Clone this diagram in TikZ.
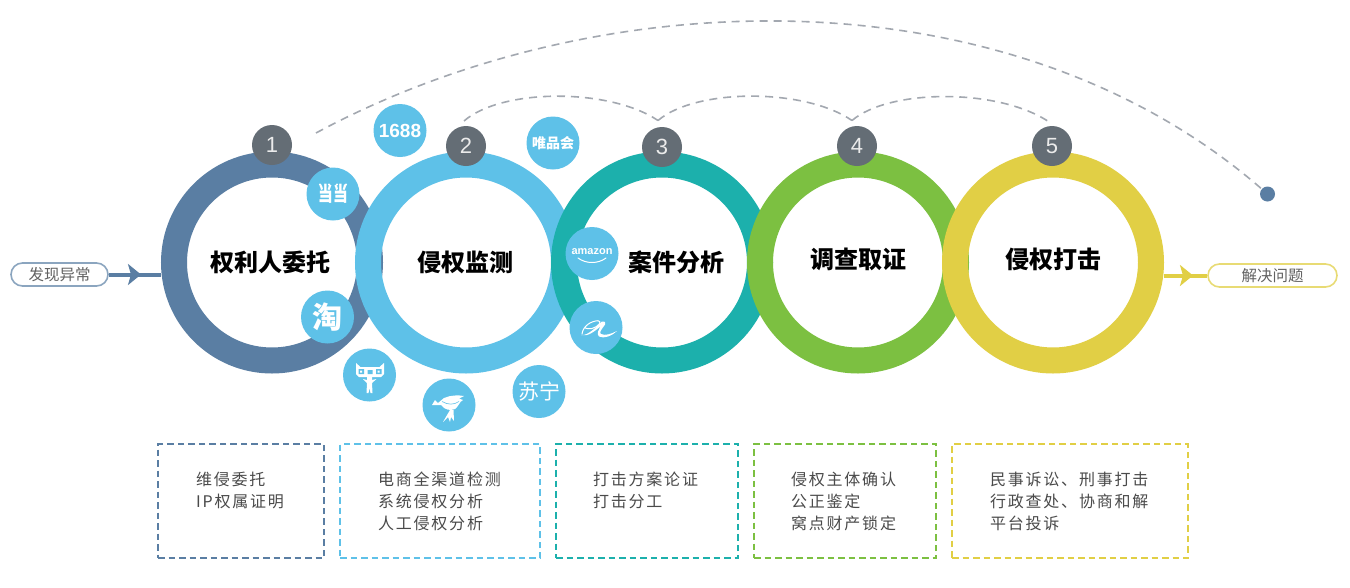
\documentclass[tikz,border=0pt]{standalone}
\usepackage{fontspec}
\usepackage{graphicx}
\setmainfont{Noto Sans CJK SC}
\newfontfamily\cjkbody[LetterSpace=11]{Noto Sans CJK SC}
\newfontfamily\numfont{Liberation Sans}
\usetikzlibrary{arrows.meta}
\definecolor{cA}{HTML}{5A7EA3}
\definecolor{cB}{HTML}{5EC1E8}
\definecolor{cC}{HTML}{1CB0AC}
\definecolor{cD}{HTML}{7CC041}
\definecolor{cE}{HTML}{E1CF45}
\definecolor{numgrey}{HTML}{646D75}
\definecolor{arcgrey}{HTML}{A3A8B0}
\definecolor{bodytext}{HTML}{4A4A4A}
\tikzset{
  ringnode/.style={circle,draw=#1,line width=26pt,minimum size=196pt,inner sep=0pt},
  ringtext/.style={inner sep=0pt,text=black,font=\fontsize{24}{28}\selectfont\bfseries},
  numnode/.style={circle,fill=numgrey,minimum size=40pt,inner sep=0pt,text=white!92!black,
    font=\numfont\fontsize{22}{26}\selectfont},
  logonode/.style={circle,fill=cB,minimum size=53pt,inner sep=0pt,text=white},
  infobox/.style={draw=#1,line width=2pt,dash pattern=on 6.5pt off 4pt,fill=white,inner sep=0pt},
  bodynode/.style={anchor=north west,align=left,inner sep=0pt,text=bodytext,
    font=\cjkbody\fontsize{16}{22}\selectfont},
  pillnode/.style={draw=#1,line width=1.6pt,fill=white,rounded corners=11.5pt,minimum height=23pt,
    inner sep=0pt,text=black!62,font=\fontsize{15.5}{18}\selectfont},
  flowline/.style={draw=#1,line width=4pt},
  flowtip/.style={draw=#1,line width=4pt,-{Stealth[inset=3pt,length=13pt,width=21pt,fill=#1]}},
  arcline/.style={draw=arcgrey,line width=1.6pt,dash pattern=on 8pt off 6pt},
  logoink/.style={draw=white,line width=#1,line cap=round,line join=round},
  logofill/.style={fill=white,draw=none},
}
\begin{document}
\begin{tikzpicture}[x=1pt,y=-1pt]
\useasboundingbox (0,0) rectangle (1350,587);
\fill[white] (0,0) rectangle (1350,587);

% rings
\node[ringnode=cA] (r1) at (272,262.5) {};
\node[ringnode=cB] (r2) at (466,262.5) {};
\node[ringnode=cC] (r3) at (662,262.5) {};
\node[ringnode=cD] (r4) at (858,262.5) {};
\node[ringnode=cE] (r5) at (1053,262.5) {};
\node[ringtext] (t1) at (270,262) {权利人委托};
\node[ringtext] (t2) at (465,262) {侵权监测};
\node[ringtext] (t3) at (676,262) {案件分析};
\node[ringtext] (t4) at (858,259) {调查取证};
\node[ringtext] (t5) at (1053,259) {侵权打击};

% terminal pills and flow lines
\node[pillnode=cA!70,minimum width=97pt] (start) at (59.5,274.5) {发现异常\hspace{5pt}};
\node[pillnode=cE!75,minimum width=129pt] (stop) at (1272.5,275.5) {解决问题\hspace{5pt}};
\coordinate (tipA) at (141,274.5);
\coordinate (tipE) at (1193,275.5);
\draw[flowline=cA] (start.east) -- (start.east -| r1.west);
\draw[flowtip=cA] (start.east) -- (tipA);
\draw[flowline=cE] (stop.west -| r5.east) -- (stop.west);
\draw[flowtip=cE] (stop.west -| r5.east) -- (tipE);

% dashed arcs
\node[circle,fill=cA,minimum size=15pt,inner sep=0pt] (dot) at (1267.5,194) {};
\coordinate (arcstart) at (316,133);
\coordinate (j2) at (464,121);
\coordinate (j3) at (658,120.5);
\coordinate (j4) at (852,120.5);
\coordinate (j5) at (1052,124);
\draw[arcline] (arcstart) .. controls (600,-20) and (1010,-30) .. (dot);
\draw[arcline] (j2) .. controls (502,88) and (610,88) .. (j3);
\draw[arcline] (j3) .. controls (696,88) and (805,88) .. (j4);
\draw[arcline] (j4) .. controls (890,88) and (1003,88) .. (j5);
\node[numnode] (n1) at (272,145) {1};
\node[numnode] (n2) at (466,146) {2};
\node[numnode] (n3) at (662,147) {3};
\node[numnode] (n4) at (857,146) {4};
\node[numnode] (n5) at (1052,146) {5};

% logo discs
\node[logonode,font=\numfont\bfseries\fontsize{19}{22}\selectfont] (l1688) at (400,130.5) {1688};
\node[logonode,font=\bfseries\fontsize{14}{16}\selectfont] (lvip) at (553,143) {唯品会};
\node[logonode,font=\bfseries\fontsize{15}{17}\selectfont] (ldd) at (333,194) {\raisebox{-1.5pt}{\scalebox{0.98}[1.35]{当当}}};
\node[logonode,font=\bfseries\fontsize{30}{33}\selectfont] (ltb) at (327.5,317) {淘};
\node[logonode] (ltm) at (369.5,375) {};
\node[logonode] (ljd) at (449,405) {};
\node[logonode,font=\fontsize{21}{24}\selectfont] (lsn) at (539,391.5) {苏宁};
\node[logonode,font=\numfont\bfseries\fontsize{11}{13}\selectfont] (lam) at (592,253.5) {\raisebox{3pt}{amazon}};
\node[logonode] (lal) at (596,327.5) {};

% amazon smile
\draw[logoink=1pt] (578,258) .. controls (586,264) and (598,264) .. (606,258);
% dangdang eyes
\fill[white] (320,184.5) circle (1.2pt) (329,184.5) circle (1.2pt) (337,184.5) circle (1.2pt) (346,184.5) circle (1.2pt);
% tmall
\fill[logofill] (356,363) -- (360.5,367) -- (379.5,367) -- (384,363) -- (384,374) -- (381,377) -- (359,377) -- (356,374) -- cycle;
\fill[cB] (358.5,369) rectangle (364,374) (367.5,370) rectangle (372.5,374) (376,369) rectangle (381.5,374);
\fill[white] (360,370.5) rectangle (362,372.5) (377.5,370.5) rectangle (379.5,372.5);
\fill[logofill] (367,377) -- (372,377) -- (372,380) -- (376.5,379) -- (372,383) -- (372.5,393) -- (370.5,393) -- (369.5,388) -- (368.5,393) -- (366.5,393) -- (367,383) -- (363,379) -- (367,380) -- cycle;
% bird
\fill[logofill] (432,405) -- (435,400) -- (438,403) -- (444,398) .. controls (451,395) and (458,395) .. (464,396) -- (459,398.5) -- (463,400) .. controls (459,402) and (459,406) .. (455,409) .. controls (450,411) and (445,410) .. (441,405) -- (436,405) -- cycle;
\draw[cB,line width=0.6pt] (442,401.5) .. controls (448,405) and (454,405) .. (459,401.5);
\fill[logofill] (450,410) -- (453.5,410) -- (454,421) -- (451,417) -- (450,422) -- (448,417) -- (443,422) -- cycle;
% alibaba swoosh
\draw[logoink=1pt] (582,334) .. controls (583,326) and (591,321) .. (598,320.7) .. controls (603,321) and (598,327) .. (592,328.5) .. controls (589,329) and (586,328.5) .. (585,328);
\fill[white] (581,335) .. controls (588,336) and (596,327) .. (602,321.5) .. controls (606,321) and (606,324) .. (604,326) .. controls (601,330) and (599,333) .. (601,334) .. controls (605,336) and (611,334) .. (617,331) .. controls (612,336) and (604,339) .. (599,336.5) .. controls (596,334) and (599,329) .. (601,326) .. controls (595,331) and (588,337) .. (581,335) -- cycle;

% info boxes
\node[infobox=cA,minimum width=166pt,minimum height=114pt] (b1) at (241,501) {};
\node[infobox=cB,minimum width=200pt,minimum height=114pt] (b2) at (440,501) {};
\node[infobox=cC,minimum width=182pt,minimum height=114pt] (b3) at (647,501) {};
\node[infobox=cD,minimum width=182pt,minimum height=114pt] (b4) at (845,501) {};
\node[infobox=cE,minimum width=236pt,minimum height=114pt] (b5) at (1070,501) {};
\node[bodynode] (x1) at (196,471.5) {维侵委托\\IP权属证明};
\node[bodynode] (x2) at (378,471.5) {电商全渠道检测\\系统侵权分析\\人工侵权分析};
\node[bodynode] (x3) at (593,471.5) {打击方案论证\\打击分工};
\node[bodynode] (x4) at (791,471.5) {侵权主体确认\\公正鉴定\\窝点财产锁定};
\node[bodynode] (x5) at (990,471.5) {民事诉讼、刑事打击\\行政查处、协商和解\\平台投诉};
\end{tikzpicture}
\end{document}
